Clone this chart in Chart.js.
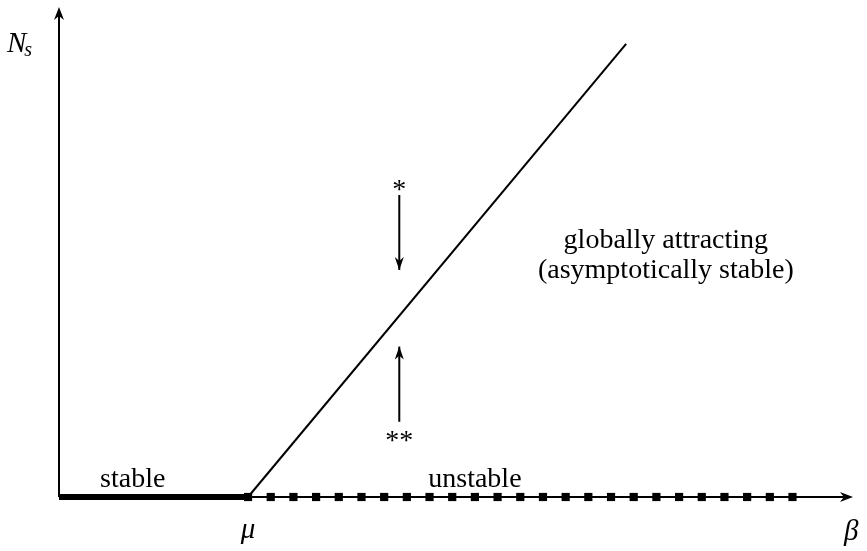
<!DOCTYPE html>
<html>
<head>
<meta charset="utf-8">
<script src="https://cdn.jsdelivr.net/npm/chart.js@4"></script>
<style>
  html, body { margin: 0; padding: 0; background: #fff; }
  #wrap { width: 867px; height: 551px; }
</style>
</head>
<body>
<div id="wrap"><canvas id="bif"></canvas></div>
<script>
// bifurcation diagram: N_s against beta, mu = 1
const mu = 1;
const xMax = 4.2, yMax = 2.163;

const stableBranch = [{x: 0, y: 0}, {x: mu, y: 0}];
const positiveBranch = [{x: mu, y: 0}, {x: 3, y: 2}];
const unstableMarks = [1.00, 1.12, 1.24, 1.36, 1.48, 1.60, 1.72, 1.84, 1.96, 2.08, 2.20, 2.32, 2.44,
  2.56, 2.68, 2.80, 2.92, 3.04, 3.16, 3.28, 3.40, 3.52, 3.64, 3.76, 3.88];
const downArrow = [{x: 1.8, y: 1.333}, {x: 1.8, y: 1.002}];
const upArrow = [{x: 1.8, y: 0.332}, {x: 1.8, y: 0.664}];

const labels = [
  {text: 'stable', x: 0.39, y: 0.044},
  {text: 'unstable', x: 2.20, y: 0.044},
  {text: 'globally attracting', x: 3.21, y: 1.1},
  {text: '(asymptotically stable)', x: 3.21, y: 0.968},
  {text: '*', x: 1.8, y: 1.318},
  {text: '**', x: 1.8, y: 0.212},
];

const serif = '"Liberation Serif", "Times New Roman", serif';

function head(ctx, tipX, tipY, dx, dy, len, half) {
  // small filled stealth arrowhead pointing along (dx, dy)
  const px = -dy, py = dx;
  ctx.beginPath();
  ctx.moveTo(tipX, tipY);
  ctx.lineTo(tipX - dx * len + px * half, tipY - dy * len + py * half);
  ctx.lineTo(tipX - dx * len * 0.7, tipY - dy * len * 0.7);
  ctx.lineTo(tipX - dx * len - px * half, tipY - dy * len - py * half);
  ctx.closePath();
  ctx.fill();
}

const decor = {
  id: 'decor',
  afterDatasetsDraw(chart) {
    const {ctx, scales: {x, y}} = chart;
    ctx.save();
    ctx.fillStyle = '#000';
    // axis heads
    head(ctx, x.getPixelForValue(xMax), y.getPixelForValue(0), 1, 0, 13, 5);
    head(ctx, x.getPixelForValue(0), y.getPixelForValue(yMax), 0, -1, 13, 5);
    // arrows toward the branch
    head(ctx, x.getPixelForValue(downArrow[1].x), y.getPixelForValue(downArrow[1].y), 0, 1, 13, 4.5);
    head(ctx, x.getPixelForValue(upArrow[1].x), y.getPixelForValue(upArrow[1].y), 0, -1, 13, 4.5);

    ctx.font = '28px ' + serif;
    ctx.textAlign = 'center';
    ctx.textBaseline = 'alphabetic';
    labels.forEach(l => ctx.fillText(l.text, x.getPixelForValue(l.x), y.getPixelForValue(l.y)));

    ctx.font = 'italic 29px ' + serif;
    ctx.fillText('\u03bc', x.getPixelForValue(mu), y.getPixelForValue(-0.18));
    ctx.fillText('\u03b2', x.getPixelForValue(4.19), y.getPixelForValue(-0.19));
    ctx.textAlign = 'left';
    const nx = x.getPixelForValue(-0.275), ny = y.getPixelForValue(1.965);
    ctx.fillText('N', nx, ny);
    const w = ctx.measureText('N').width;
    ctx.font = 'italic 20px ' + serif;
    ctx.fillText('s', nx + w - 2, ny + 4);
    ctx.restore();
  }
};

new Chart(document.getElementById('bif'), {
  type: 'scatter',
  data: {
    datasets: [
      {data: unstableMarks.map(v => ({x: v, y: 0})), showLine: false, pointStyle: 'rect',
        pointRadius: 5.8, backgroundColor: '#000', borderColor: '#000', borderWidth: 0},
      {data: stableBranch, showLine: true, borderColor: '#000', borderWidth: 6, borderCapStyle: 'butt', pointRadius: 0},
      {data: [{x: 0, y: 0}, {x: xMax - 0.03, y: 0}], showLine: true, borderColor: '#000', borderWidth: 2, pointRadius: 0},
      {data: [{x: 0, y: 0}, {x: 0, y: yMax - 0.03}], showLine: true, borderColor: '#000', borderWidth: 2, pointRadius: 0},
      {data: positiveBranch, showLine: true, borderColor: '#000', borderWidth: 2, pointRadius: 0},
      {data: downArrow, showLine: true, borderColor: '#000', borderWidth: 2, pointRadius: 0},
      {data: upArrow, showLine: true, borderColor: '#000', borderWidth: 2, pointRadius: 0},
    ]
  },
  options: {
    responsive: true,
    maintainAspectRatio: false,
    animation: false,
    layout: {padding: {left: 59, right: 14, top: 7, bottom: 54}},
    datasets: {scatter: {clip: false}},
    plugins: {legend: {display: false}, tooltip: {enabled: false}},
    scales: {
      x: {type: 'linear', min: 0, max: xMax, display: false},
      y: {type: 'linear', min: 0, max: yMax, display: false}
    }
  },
  plugins: [decor]
});
</script>
</body>
</html>
